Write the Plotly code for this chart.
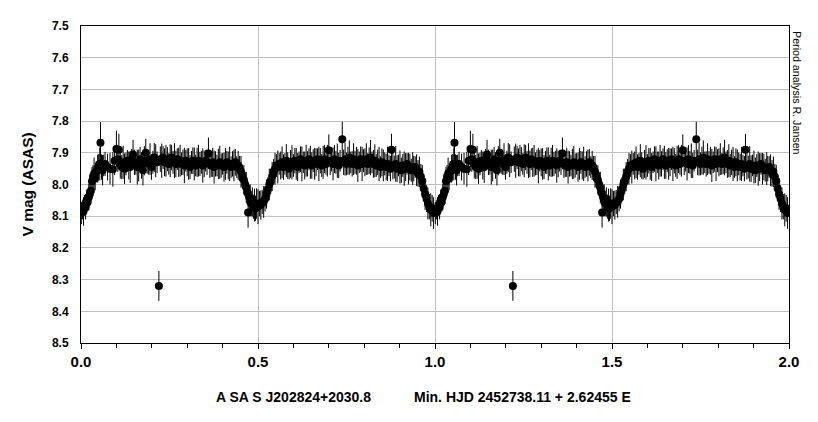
import plotly.graph_objects as go

# Phased light curve of ASAS J202824+2030.8 (one cycle, shown twice)
PHASE = [
    0.001, 0.004, 0.007, 0.010, 0.013, 0.016, 0.019, 0.022, 0.025, 0.028,
    0.031, 0.034, 0.037, 0.040, 0.043, 0.047, 0.050, 0.053, 0.055, 0.058,
    0.061, 0.064, 0.068, 0.075, 0.082, 0.090, 0.095, 0.100, 0.104, 0.107,
    0.111, 0.115, 0.119, 0.123, 0.127, 0.131, 0.135, 0.139, 0.143, 0.147,
    0.151, 0.155, 0.159, 0.163, 0.167, 0.171, 0.175, 0.179, 0.183, 0.187,
    0.191, 0.195, 0.199, 0.203, 0.207, 0.211, 0.215, 0.220, 0.224, 0.228,
    0.232, 0.236, 0.240, 0.244, 0.248, 0.252, 0.256, 0.260, 0.264, 0.268,
    0.272, 0.276, 0.280, 0.284, 0.288, 0.292, 0.296, 0.300, 0.304, 0.308,
    0.312, 0.316, 0.320, 0.324, 0.328, 0.332, 0.336, 0.340, 0.344, 0.348,
    0.352, 0.356, 0.360, 0.364, 0.368, 0.372, 0.376, 0.380, 0.384, 0.388,
    0.392, 0.396, 0.400, 0.404, 0.408, 0.412, 0.416, 0.420, 0.424, 0.428,
    0.432, 0.436, 0.440, 0.444, 0.448, 0.452, 0.456, 0.460, 0.464, 0.467,
    0.470, 0.472, 0.475, 0.478, 0.481, 0.484, 0.487, 0.490, 0.493, 0.496,
    0.500, 0.504, 0.508, 0.512, 0.516, 0.520, 0.524, 0.528, 0.532, 0.536,
    0.540, 0.544, 0.548, 0.552, 0.556, 0.560, 0.564, 0.568, 0.572, 0.576,
    0.580, 0.584, 0.588, 0.592, 0.596, 0.600, 0.604, 0.608, 0.612, 0.616,
    0.620, 0.624, 0.628, 0.632, 0.636, 0.640, 0.644, 0.648, 0.652, 0.656,
    0.660, 0.664, 0.668, 0.672, 0.676, 0.680, 0.684, 0.688, 0.692, 0.696,
    0.700, 0.704, 0.708, 0.712, 0.716, 0.720, 0.724, 0.728, 0.732, 0.738,
    0.742, 0.746, 0.750, 0.754, 0.758, 0.762, 0.766, 0.770, 0.774, 0.778,
    0.782, 0.786, 0.790, 0.794, 0.798, 0.802, 0.806, 0.810, 0.814, 0.818,
    0.822, 0.826, 0.830, 0.834, 0.838, 0.842, 0.846, 0.850, 0.854, 0.858,
    0.862, 0.866, 0.870, 0.874, 0.877, 0.881, 0.885, 0.889, 0.893, 0.897,
    0.901, 0.905, 0.909, 0.913, 0.917, 0.921, 0.925, 0.929, 0.933, 0.937,
    0.940, 0.944, 0.948, 0.952, 0.956, 0.960, 0.964, 0.968, 0.972, 0.976,
    0.980, 0.984, 0.988, 0.992, 0.996,
]

VMAG = [
    8.090, 8.080, 8.085, 8.065, 8.070, 8.050, 8.055, 8.040, 8.030, 8.020,
    7.990, 7.975, 7.965, 7.980, 7.960, 7.950, 7.940, 7.935, 7.868, 7.945,
    7.955, 7.940, 7.935, 7.945, 7.950, 7.952, 7.925, 7.888, 7.920, 7.890,
    7.935, 7.945, 7.930, 7.950, 7.935, 7.925, 7.940, 7.945, 7.920, 7.905,
    7.930, 7.935, 7.945, 7.940, 7.920, 7.940, 7.955, 7.925, 7.900, 7.930,
    7.935, 7.920, 7.945, 7.930, 7.915, 7.925, 7.930, 8.320, 7.920, 7.925,
    7.915, 7.930, 7.925, 7.920, 7.935, 7.925, 7.915, 7.930, 7.925, 7.935,
    7.920, 7.930, 7.925, 7.935, 7.930, 7.940, 7.925, 7.930, 7.935, 7.945,
    7.930, 7.925, 7.935, 7.940, 7.930, 7.925, 7.935, 7.930, 7.940, 7.935,
    7.925, 7.930, 7.902, 7.935, 7.940, 7.930, 7.945, 7.935, 7.940, 7.935,
    7.930, 7.940, 7.935, 7.945, 7.935, 7.930, 7.940, 7.935, 7.945, 7.935,
    7.940, 7.930, 7.945, 7.940, 7.950, 7.960, 7.975, 7.985, 8.000, 8.010,
    8.025, 8.088, 8.040, 8.050, 8.060, 8.055, 8.070, 8.065, 8.075, 8.060,
    8.070, 8.060, 8.065, 8.055, 8.055, 8.045, 8.030, 8.015, 8.000, 7.990,
    7.975, 7.960, 7.950, 7.940, 7.945, 7.935, 7.940, 7.930, 7.945, 7.935,
    7.925, 7.940, 7.950, 7.935, 7.930, 7.940, 7.925, 7.935, 7.945, 7.930,
    7.920, 7.935, 7.930, 7.940, 7.925, 7.935, 7.920, 7.930, 7.940, 7.925,
    7.935, 7.930, 7.920, 7.935, 7.925, 7.940, 7.930, 7.920, 7.935, 7.925,
    7.892, 7.930, 7.925, 7.935, 7.920, 7.930, 7.925, 7.940, 7.925, 7.857,
    7.930, 7.920, 7.935, 7.925, 7.915, 7.930, 7.935, 7.920, 7.930, 7.925,
    7.940, 7.930, 7.920, 7.935, 7.925, 7.930, 7.920, 7.935, 7.925, 7.915,
    7.930, 7.935, 7.925, 7.940, 7.930, 7.935, 7.945, 7.930, 7.940, 7.935,
    7.945, 7.935, 7.940, 7.950, 7.890, 7.940, 7.945, 7.935, 7.950, 7.940,
    7.945, 7.955, 7.940, 7.950, 7.945, 7.935, 7.950, 7.945, 7.955, 7.950,
    7.950, 7.945, 7.955, 7.965, 7.960, 7.975, 7.990, 8.013, 8.030, 8.045,
    8.060, 8.070, 8.080, 8.075, 8.090,
]

VERR = [
    0.035, 0.030, 0.045, 0.032, 0.040, 0.034, 0.030, 0.042, 0.036, 0.033,
    0.045, 0.036, 0.050, 0.038, 0.034, 0.044, 0.036, 0.052, 0.065, 0.040,
    0.048, 0.034, 0.038, 0.042, 0.050, 0.055, 0.045, 0.058, 0.040, 0.050,
    0.046, 0.038, 0.052, 0.048, 0.036, 0.034, 0.044, 0.050, 0.032, 0.046,
    0.040, 0.034, 0.055, 0.050, 0.038, 0.042, 0.048, 0.046, 0.044, 0.036,
    0.034, 0.050, 0.040, 0.036, 0.046, 0.052, 0.034, 0.047, 0.040, 0.054,
    0.036, 0.044, 0.050, 0.038, 0.034, 0.052, 0.040, 0.036, 0.055, 0.042,
    0.034, 0.046, 0.050, 0.036, 0.040, 0.056, 0.034, 0.044, 0.050, 0.038,
    0.036, 0.042, 0.052, 0.034, 0.046, 0.050, 0.038, 0.036, 0.054, 0.042,
    0.034, 0.040, 0.050, 0.044, 0.036, 0.046, 0.052, 0.040, 0.034, 0.048,
    0.052, 0.038, 0.034, 0.046, 0.050, 0.036, 0.044, 0.054, 0.034, 0.040,
    0.050, 0.042, 0.034, 0.046, 0.040, 0.050, 0.038, 0.046, 0.040, 0.050,
    0.040, 0.048, 0.038, 0.050, 0.040, 0.046, 0.038, 0.052, 0.040, 0.048,
    0.055, 0.040, 0.046, 0.038, 0.050, 0.040, 0.046, 0.038, 0.050, 0.040,
    0.046, 0.040, 0.050, 0.036, 0.052, 0.034, 0.044, 0.050, 0.040, 0.034,
    0.052, 0.042, 0.034, 0.044, 0.054, 0.036, 0.040, 0.050, 0.044, 0.034,
    0.040, 0.055, 0.034, 0.044, 0.050, 0.040, 0.034, 0.052, 0.042, 0.036,
    0.050, 0.044, 0.034, 0.054, 0.040, 0.036, 0.052, 0.044, 0.034, 0.050,
    0.050, 0.040, 0.034, 0.052, 0.044, 0.036, 0.054, 0.040, 0.034, 0.055,
    0.040, 0.052, 0.036, 0.044, 0.054, 0.034, 0.040, 0.050, 0.036, 0.044,
    0.052, 0.034, 0.040, 0.054, 0.036, 0.044, 0.050, 0.034, 0.042, 0.056,
    0.034, 0.044, 0.052, 0.036, 0.040, 0.054, 0.034, 0.044, 0.050, 0.036,
    0.042, 0.054, 0.034, 0.040, 0.050, 0.044, 0.036, 0.056, 0.042, 0.034,
    0.052, 0.040, 0.036, 0.054, 0.044, 0.034, 0.050, 0.042, 0.036, 0.052,
    0.040, 0.034, 0.050, 0.042, 0.048, 0.040, 0.052, 0.040, 0.050, 0.042,
    0.050, 0.040, 0.052, 0.042, 0.050,
]

CYCLE_OFFSETS = [0.0, 1.0]

X_TICKS = [0.0, 0.5, 1.0, 1.5, 2.0]
Y_TICKS = [7.5, 7.6, 7.7, 7.8, 7.9, 8.0, 8.1, 8.2, 8.3, 8.4, 8.5]

TITLE_STAR = "A SA S J202824+2030.8"
TITLE_EPHEM = "Min. HJD 2452738.11 + 2.62455 E"
Y_TITLE = "V mag (ASAS)"
CREDIT = "Period analysis R. Jansen"

assert len(PHASE) == len(VMAG) == len(VERR)

xs = [p + c for c in CYCLE_OFFSETS for p in PHASE]
ys = [m for _ in CYCLE_OFFSETS for m in VMAG]
es = [e for _ in CYCLE_OFFSETS for e in VERR]

FONT = "Liberation Sans, Arial, sans-serif"

fig = go.Figure()
fig.add_trace(go.Scatter(
    x=xs, y=ys, mode="markers",
    marker=dict(size=8, color="black", line=dict(width=0)),
    error_y=dict(type="data", array=es, visible=True, color="black",
                 thickness=1, width=0),
    showlegend=False, hoverinfo="skip",
))

L, R, T, B = 81, 29, 26, 79
W, H = 818, 422
pw = W - L - R
ph = H - T - B

def px_x(x):
    return (x - L) / pw

def px_y(y):
    return (H - B - y) / ph

fig.update_layout(
    width=W, height=H,
    margin=dict(l=L, r=R, t=T, b=B, pad=0),
    paper_bgcolor="white", plot_bgcolor="white",
    font=dict(family=FONT, color="black"),
    xaxis=dict(
        range=[0, 2], tickvals=X_TICKS, tickformat=".1f",
        showgrid=True, gridcolor="#c0c0c0", gridwidth=1,
        showline=True, linecolor="black", linewidth=1, mirror=True,
        ticks="outside", ticklen=5, tickcolor="black", tickwidth=1,
        tickfont=dict(size=15, family=FONT, color="black", weight="bold"),
        minor=dict(dtick=0.1, tick0=0, ticks="outside", ticklen=4,
                   tickcolor="black", tickwidth=1, showgrid=False),
        zeroline=False, fixedrange=True,
    ),
    yaxis=dict(
        range=[8.5, 7.5], tickvals=Y_TICKS, tickformat=".1f",
        showgrid=True, gridcolor="#c0c0c0", gridwidth=1,
        showline=True, linecolor="black", linewidth=1, mirror=True,
        ticks="", ticklabelstandoff=9,
        tickfont=dict(size=12, family=FONT, color="black", weight="bold"),
        zeroline=False, fixedrange=True,
    ),
    annotations=[
        dict(text=Y_TITLE, xref="paper", yref="paper", x=px_x(27), y=0.5,
             xanchor="center", yanchor="middle", textangle=-90, showarrow=False,
             font=dict(size=15.5, family=FONT, color="black", weight="bold")),
        dict(text=TITLE_STAR, xref="paper", yref="paper", x=px_x(293.5), y=px_y(397),
             xanchor="center", yanchor="middle", showarrow=False,
             font=dict(size=14, family=FONT, color="black", weight="bold")),
        dict(text=TITLE_EPHEM, xref="paper", yref="paper", x=px_x(522), y=px_y(397),
             xanchor="center", yanchor="middle", showarrow=False,
             font=dict(size=14, family=FONT, color="black", weight="bold")),
        dict(text=CREDIT, xref="paper", yref="paper", x=px_x(797), y=px_y(29),
             xanchor="center", yanchor="top", textangle=90, showarrow=False,
             font=dict(size=10.7, family=FONT, color="black")),
    ],
)

fig.write_html(
    "out.html",
    config={"displayModeBar": False},
    post_script="document.body.style.margin='0';document.body.style.overflow='hidden';",
)
